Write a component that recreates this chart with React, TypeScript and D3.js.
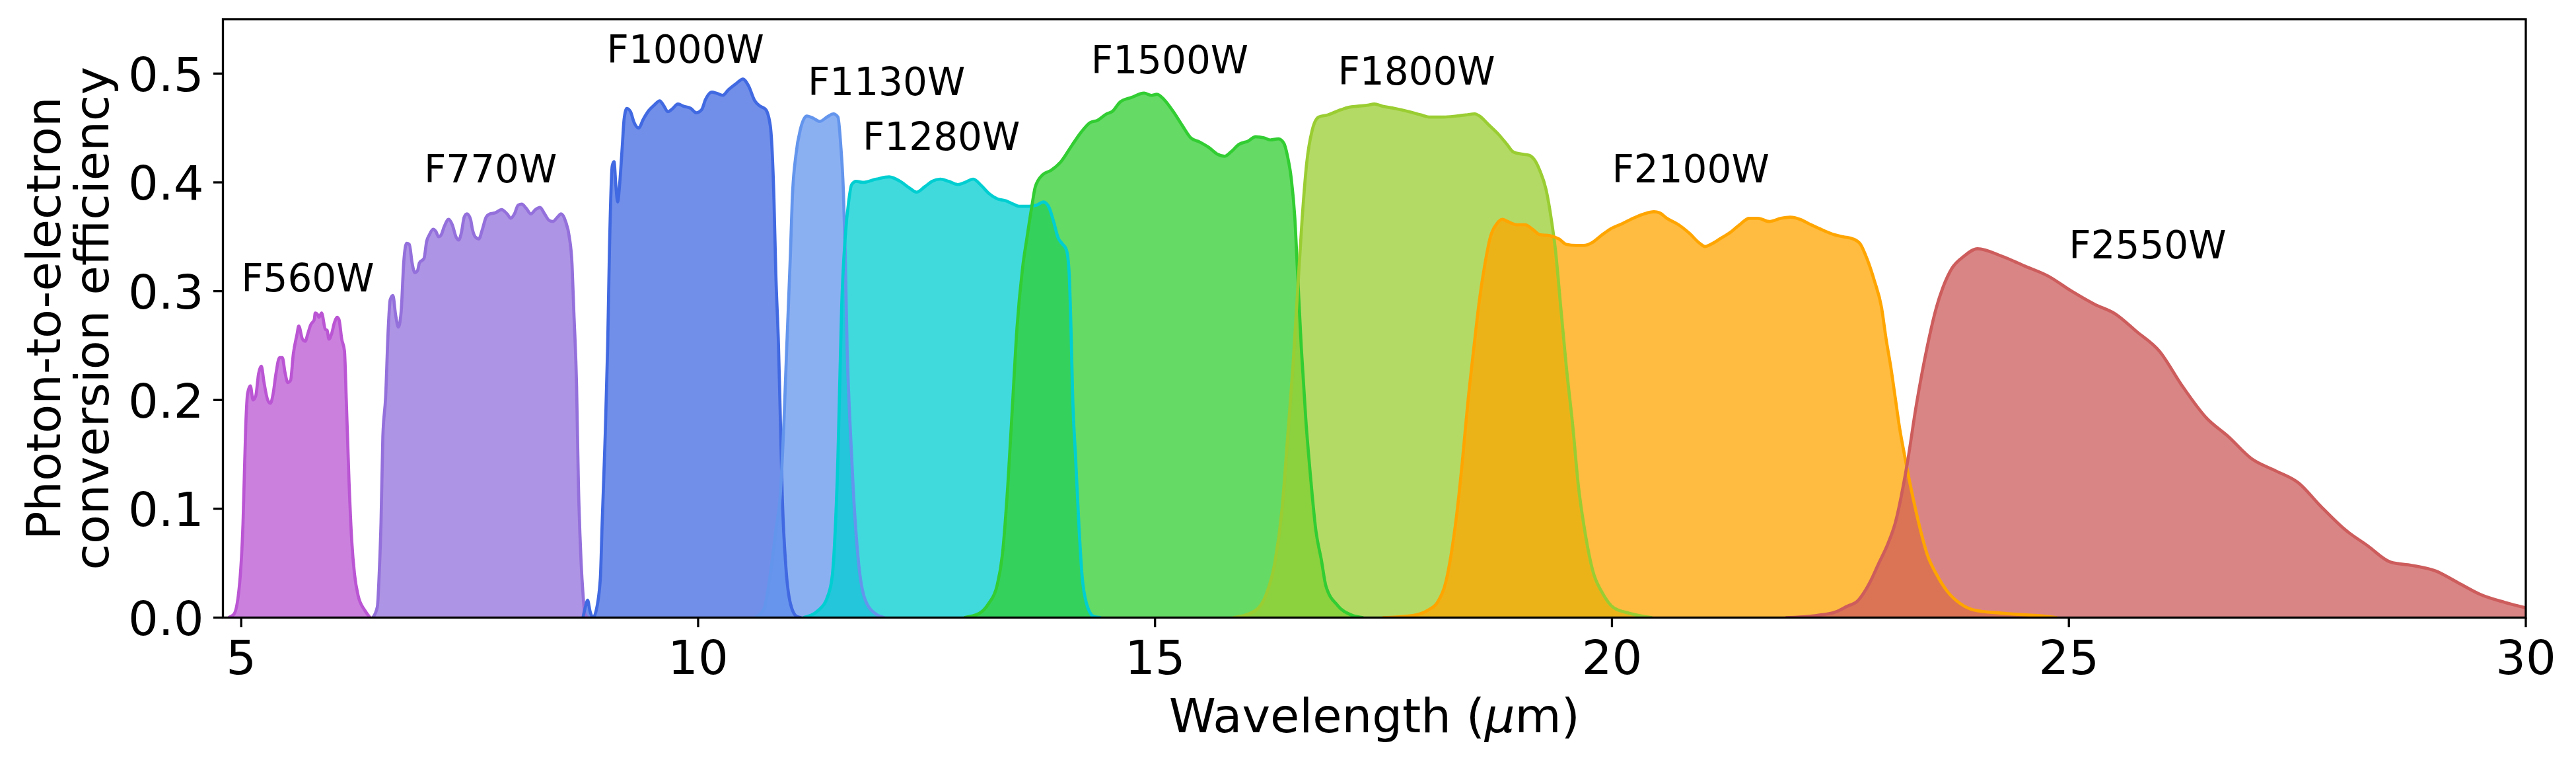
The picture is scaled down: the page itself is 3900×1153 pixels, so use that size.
import React from "react";
import * as d3 from "d3";

const width = 3900;
const height = 1153;
const margin = { top: 29, right: 76, bottom: 218.5, left: 337.5 };

// axis ticks
const xTicks = [5, 10, 15, 20, 25, 30];
const yTicks = [0, 0.1, 0.2, 0.3, 0.4, 0.5];

// filter names, colours and where their labels sit (data coords)
const filterNames = ["F560W", "F770W", "F1000W", "F1130W", "F1280W", "F1500W", "F1800W", "F2100W", "F2550W"];
const filterColors = ["mediumorchid", "mediumpurple", "royalblue", "cornflowerblue", "darkturquoise", "limegreen", "yellowgreen", "orange", "indianred"];
const labelX = [5, 7, 9, 11.2, 11.8, 14.3, 17, 20, 25];
const labelY = [0.3, 0.4, 0.51, 0.48, 0.43, 0.5, 0.49, 0.4, 0.33];

// [wavelength (um), efficiency]
const f560w = [
  [4.86, 0], [4.92, 0.003], [4.98, 0.029], [5.02, 0.087], [5.05, 0.177], [5.07, 0.206], [5.1, 0.213],
  [5.13, 0.2], [5.16, 0.204], [5.19, 0.224], [5.22, 0.231], [5.25, 0.216], [5.29, 0.2], [5.32, 0.197],
  [5.35, 0.206], [5.38, 0.224], [5.42, 0.239], [5.45, 0.239], [5.48, 0.225], [5.51, 0.216], [5.54, 0.218],
  [5.57, 0.242], [5.61, 0.26], [5.63, 0.268], [5.67, 0.256], [5.7, 0.254], [5.73, 0.261], [5.76, 0.269],
  [5.8, 0.274], [5.81, 0.28], [5.84, 0.278], [5.85, 0.276], [5.88, 0.28], [5.92, 0.265], [5.94, 0.264],
  [5.96, 0.256], [5.99, 0.261], [6.02, 0.271], [6.05, 0.276], [6.07, 0.274], [6.1, 0.256], [6.13, 0.245],
  [6.15, 0.2], [6.18, 0.125], [6.21, 0.07], [6.24, 0.04], [6.28, 0.02], [6.35, 0.007], [6.41, 0],
];
const f770w = [
  [6.44, 0], [6.49, 0.01], [6.51, 0.04], [6.53, 0.087], [6.55, 0.166], [6.58, 0.202], [6.61, 0.267],
  [6.63, 0.292], [6.66, 0.296], [6.69, 0.278], [6.72, 0.267], [6.75, 0.281], [6.78, 0.328], [6.81, 0.344],
  [6.84, 0.343], [6.87, 0.326], [6.9, 0.317], [6.93, 0.319], [6.95, 0.326], [7.0, 0.33], [7.03, 0.346],
  [7.06, 0.352], [7.1, 0.357], [7.13, 0.355], [7.16, 0.35], [7.19, 0.352], [7.22, 0.359], [7.27, 0.366],
  [7.31, 0.361], [7.35, 0.35], [7.38, 0.347], [7.41, 0.354], [7.44, 0.368], [7.47, 0.371], [7.51, 0.366],
  [7.53, 0.357], [7.56, 0.35], [7.6, 0.348], [7.64, 0.357], [7.68, 0.368], [7.72, 0.371], [7.78, 0.372],
  [7.85, 0.375], [7.91, 0.371], [7.95, 0.367], [7.99, 0.371], [8.03, 0.379], [8.07, 0.38], [8.12, 0.376],
  [8.17, 0.371], [8.22, 0.375], [8.27, 0.377], [8.32, 0.371], [8.37, 0.365], [8.41, 0.364], [8.46, 0.368],
  [8.5, 0.371], [8.55, 0.364], [8.59, 0.35], [8.62, 0.325], [8.64, 0.281], [8.67, 0.213], [8.69, 0.123],
  [8.72, 0.05], [8.74, 0.022], [8.76, 0.004], [8.79, 0],
];
const f1000w = [
  [8.74, 0], [8.77, 0.011], [8.79, 0.016], [8.82, 0.005], [8.85, 0], [8.88, 0.005], [8.93, 0.036],
  [8.95, 0.087], [8.98, 0.159], [9.01, 0.249], [9.03, 0.339], [9.06, 0.415], [9.08, 0.419], [9.1, 0.397],
  [9.12, 0.382], [9.14, 0.397], [9.17, 0.433], [9.19, 0.458], [9.22, 0.468], [9.26, 0.465], [9.3, 0.455],
  [9.35, 0.45], [9.4, 0.458], [9.46, 0.466], [9.52, 0.471], [9.58, 0.475], [9.62, 0.471], [9.67, 0.465],
  [9.71, 0.467], [9.78, 0.472], [9.84, 0.47], [9.92, 0.468], [9.98, 0.464], [10.04, 0.467], [10.08, 0.476],
  [10.15, 0.483], [10.2, 0.482], [10.27, 0.48], [10.33, 0.485], [10.42, 0.491], [10.49, 0.495], [10.55, 0.489],
  [10.62, 0.475], [10.68, 0.47], [10.74, 0.467], [10.79, 0.452], [10.83, 0.384], [10.85, 0.317], [10.88, 0.249],
  [10.9, 0.182], [10.92, 0.114], [10.96, 0.047], [11.01, 0.013], [11.08, 0.001], [11.13, 0],
];
const f1130w = [
  [10.62, 0], [10.72, 0.008], [10.79, 0.04], [10.85, 0.08], [10.9, 0.114], [10.94, 0.182], [10.97, 0.249],
  [11.01, 0.334], [11.03, 0.384], [11.07, 0.425], [11.12, 0.449], [11.19, 0.461], [11.26, 0.459], [11.33, 0.456],
  [11.41, 0.46], [11.48, 0.463], [11.53, 0.46], [11.56, 0.435], [11.59, 0.391], [11.61, 0.334], [11.63, 0.249],
  [11.66, 0.182], [11.7, 0.114], [11.76, 0.047], [11.83, 0.016], [11.95, 0.003], [12.04, 0],
];
const f1280w = [
  [11.15, 0], [11.32, 0.007], [11.42, 0.02], [11.47, 0.04], [11.5, 0.08], [11.53, 0.148], [11.55, 0.216],
  [11.57, 0.283], [11.61, 0.35], [11.65, 0.384], [11.68, 0.398], [11.73, 0.401], [11.8, 0.4], [11.95, 0.403],
  [12.09, 0.405], [12.21, 0.401], [12.31, 0.395], [12.39, 0.391], [12.48, 0.396], [12.56, 0.401], [12.65, 0.403],
  [12.74, 0.401], [12.84, 0.398], [12.92, 0.4], [13.01, 0.403], [13.1, 0.397], [13.18, 0.39], [13.27, 0.385],
  [13.37, 0.383], [13.45, 0.38], [13.51, 0.378], [13.62, 0.378], [13.7, 0.379], [13.78, 0.382], [13.84, 0.377],
  [13.89, 0.364], [13.94, 0.349], [13.98, 0.344], [14.03, 0.338], [14.06, 0.317], [14.08, 0.266], [14.1, 0.199],
  [14.13, 0.148], [14.17, 0.08], [14.2, 0.04], [14.25, 0.013], [14.33, 0.001], [14.41, 0],
];
const f1500w = [
  [12.91, 0], [13.08, 0.004], [13.18, 0.013], [13.27, 0.029], [13.33, 0.058], [13.39, 0.123], [13.44, 0.195],
  [13.49, 0.267], [13.55, 0.321], [13.6, 0.35], [13.65, 0.377], [13.69, 0.396], [13.77, 0.407], [13.86, 0.411],
  [13.97, 0.419], [14.09, 0.434], [14.19, 0.446], [14.29, 0.455], [14.37, 0.457], [14.47, 0.463], [14.53, 0.465],
  [14.62, 0.474], [14.74, 0.478], [14.88, 0.482], [14.96, 0.48], [15.02, 0.481], [15.1, 0.476], [15.2, 0.465],
  [15.3, 0.452], [15.39, 0.441], [15.49, 0.437], [15.59, 0.432], [15.68, 0.426], [15.76, 0.424], [15.83, 0.428],
  [15.92, 0.435], [16.02, 0.438], [16.1, 0.442], [16.19, 0.441], [16.26, 0.439], [16.35, 0.44], [16.41, 0.436],
  [16.45, 0.424], [16.49, 0.404], [16.53, 0.367], [16.56, 0.316], [16.6, 0.249], [16.65, 0.182], [16.7, 0.131],
  [16.76, 0.08], [16.82, 0.053], [16.87, 0.029], [17.0, 0.011], [17.16, 0.002], [17.28, 0],
];
const f1800w = [
  [15.85, 0], [16.09, 0.006], [16.21, 0.02], [16.31, 0.05], [16.39, 0.1], [16.45, 0.165], [16.51, 0.232],
  [16.56, 0.3], [16.61, 0.367], [16.66, 0.418], [16.72, 0.448], [16.79, 0.46], [16.89, 0.462], [17.01, 0.466],
  [17.12, 0.469], [17.22, 0.47], [17.33, 0.471], [17.4, 0.472], [17.49, 0.47], [17.62, 0.468], [17.78, 0.465],
  [17.91, 0.462], [18.01, 0.46], [18.16, 0.46], [18.3, 0.461], [18.4, 0.462], [18.5, 0.463], [18.55, 0.461],
  [18.65, 0.453], [18.76, 0.444], [18.85, 0.435], [18.92, 0.428], [19.01, 0.426], [19.09, 0.425], [19.15, 0.421],
  [19.21, 0.411], [19.28, 0.393], [19.34, 0.364], [19.38, 0.339], [19.44, 0.285], [19.5, 0.231], [19.57, 0.177],
  [19.63, 0.123], [19.71, 0.076], [19.79, 0.043], [19.9, 0.022], [20.02, 0.009], [20.19, 0.004], [20.44, 0],
];
const f2100w = [
  [17.49, 0], [17.82, 0.002], [17.99, 0.007], [18.09, 0.014], [18.18, 0.032], [18.24, 0.058], [18.3, 0.094],
  [18.36, 0.141], [18.42, 0.195], [18.49, 0.249], [18.55, 0.292], [18.61, 0.325], [18.67, 0.35], [18.74, 0.362],
  [18.8, 0.366], [18.86, 0.364], [18.96, 0.361], [19.05, 0.361], [19.13, 0.357], [19.21, 0.352], [19.32, 0.351],
  [19.42, 0.348], [19.5, 0.343], [19.61, 0.342], [19.69, 0.342], [19.79, 0.345], [19.88, 0.351], [19.98, 0.357],
  [20.11, 0.362], [20.23, 0.367], [20.35, 0.371], [20.46, 0.373], [20.52, 0.372], [20.6, 0.367], [20.73, 0.361],
  [20.85, 0.353], [20.96, 0.344], [21.02, 0.341], [21.08, 0.343], [21.18, 0.348], [21.31, 0.355], [21.41, 0.362],
  [21.5, 0.367], [21.6, 0.367], [21.72, 0.364], [21.85, 0.367], [21.95, 0.368], [22.06, 0.366], [22.18, 0.361],
  [22.31, 0.356], [22.43, 0.352], [22.53, 0.35], [22.64, 0.348], [22.72, 0.343], [22.79, 0.33], [22.87, 0.31],
  [22.95, 0.285], [23.0, 0.256], [23.05, 0.231], [23.1, 0.202], [23.15, 0.173], [23.2, 0.15], [23.25, 0.128],
  [23.3, 0.108], [23.38, 0.079], [23.45, 0.058], [23.55, 0.04], [23.68, 0.023], [23.81, 0.013], [23.96, 0.007],
  [24.27, 0.004], [24.77, 0.001], [24.87, 0],
];
const f2550w = [
  [21.9, 0], [22.24, 0.002], [22.44, 0.005], [22.59, 0.011], [22.67, 0.014], [22.82, 0.032], [22.92, 0.05],
  [23.02, 0.068], [23.1, 0.087], [23.23, 0.141], [23.33, 0.195], [23.45, 0.249], [23.55, 0.285], [23.62, 0.303],
  [23.72, 0.321], [23.85, 0.332], [24.0, 0.339], [24.27, 0.332], [24.52, 0.323], [24.77, 0.314], [25.03, 0.3],
  [25.28, 0.288], [25.51, 0.279], [25.74, 0.263], [25.99, 0.245], [26.24, 0.213], [26.5, 0.184], [26.75, 0.166],
  [27.0, 0.146], [27.26, 0.135], [27.51, 0.124], [27.76, 0.102], [28.02, 0.081], [28.27, 0.066], [28.52, 0.051],
  [28.75, 0.048], [29.01, 0.043], [29.26, 0.032], [29.51, 0.021], [29.77, 0.014], [30.0, 0.009],
];

const filterCurves = [f560w, f770w, f1000w, f1130w, f1280w, f1500w, f1800w, f2100w, f2550w];

const font = "DejaVu Sans, Verdana, sans-serif";

export default function App() {
  const xScale = d3.scaleLinear().domain([4.8, 30]).range([margin.left, width - margin.right]);
  const yScale = d3.scaleLinear().domain([0, 0.55]).range([height - margin.bottom, margin.top]);

  const line = d3
    .line<number[]>()
    .x(d => xScale(d[0]))
    .y(d => yScale(d[1]))
    .curve(d3.curveMonotoneX);

  const area = d3
    .area<number[]>()
    .x(d => xScale(d[0]))
    .y0(yScale(0))
    .y1(d => yScale(d[1]))
    .curve(d3.curveMonotoneX);

  const x0 = xScale.range()[0];
  const x1 = xScale.range()[1];
  const yb = yScale.range()[0];
  const yt = yScale.range()[1];

  return (
    <svg
      width={width}
      height={height}
      style={{ position: "absolute", left: 0, top: 0, background: "white" }}
      fontFamily={font}
    >
      <defs>
        <clipPath id="plot">
          <rect x={x0} y={yt} width={x1 - x0} height={yb - yt} />
        </clipPath>
      </defs>

      <g clipPath="url(#plot)">
        {filterCurves.map((c, i) => (
          <path key={"a" + i} d={area(c)} fill={filterColors[i]} fillOpacity={0.75} stroke="none" />
        ))}
        {filterCurves.map((c, i) => (
          <path key={"l" + i} d={line(c)} fill="none" stroke={filterColors[i]} strokeWidth={4.7} strokeLinejoin="round" />
        ))}
      </g>

      {/* frame */}
      <rect x={x0} y={yt} width={x1 - x0} height={yb - yt} fill="none" stroke="black" strokeWidth={3.3} />

      {/* x axis */}
      {xTicks.map(t => (
        <g key={"x" + t}>
          <line x1={xScale(t)} x2={xScale(t)} y1={yb} y2={yb + 14.6} stroke="black" strokeWidth={3.3} />
          <text x={xScale(t)} y={yb + 85} textAnchor="middle" fontSize={72}>
            {t}
          </text>
        </g>
      ))}
      <text x={(x0 + x1) / 2} y={1108} textAnchor="middle" fontSize={72}>
        Wavelength (<tspan fontStyle="italic">μ</tspan>m)
      </text>

      {/* y axis */}
      {yTicks.map(t => (
        <g key={"y" + t}>
          <line x1={x0 - 14.6} x2={x0} y1={yScale(t)} y2={yScale(t)} stroke="black" strokeWidth={3.3} />
          <text x={308.5} y={yScale(t) + 26.5} textAnchor="end" fontSize={72}>
            {t.toFixed(1)}
          </text>
        </g>
      ))}
      <text transform={`translate(90.7, ${(yb + yt) / 2}) rotate(-90)`} textAnchor="middle" fontSize={72}>
        Photon-to-electron
      </text>
      <text transform={`translate(164, ${(yb + yt) / 2}) rotate(-90)`} textAnchor="middle" fontSize={72}>
        conversion efficiency
      </text>

      {/* filter labels */}
      {filterNames.map((n, i) => (
        <text key={n} x={xScale(labelX[i])} y={yScale(labelY[i])} fontSize={58}>
          {n}
        </text>
      ))}
    </svg>
  );
}
